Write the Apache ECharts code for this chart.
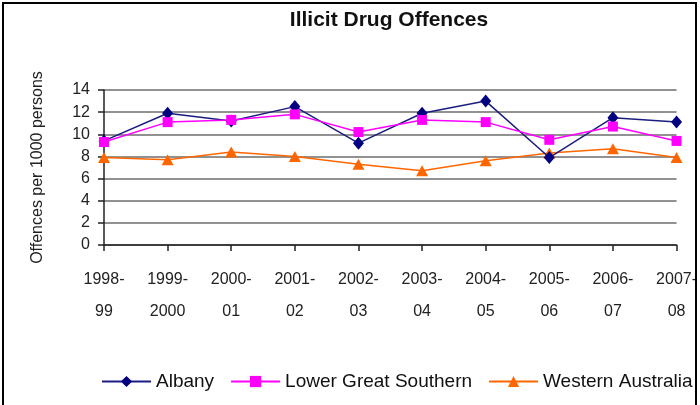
<!DOCTYPE html>
<html>
<head>
<meta charset="utf-8">
<script src="https://cdn.jsdelivr.net/npm/echarts@6/dist/echarts.min.js"></script>
<style>html,body{margin:0;padding:0;background:#fff;}#c{width:700px;height:405px;}</style>
</head>
<body>
<div id="c"></div>
<script>
const categories = ['1998-\n99','1999-\n2000','2000-\n01','2001-\n02','2002-\n03','2003-\n04','2004-\n05','2005-\n06','2006-\n07','2007-\n08'];
const albany = [9.4, 11.9, 11.2, 12.5, 9.2, 11.9, 13.0, 7.9, 11.5, 11.1];
const lowerGreatSouthern = [9.3, 11.1, 11.3, 11.8, 10.2, 11.3, 11.1, 9.5, 10.7, 9.4];
const westernAustralia = [7.9, 7.7, 8.4, 8.0, 7.3, 6.7, 7.6, 8.3, 8.7, 7.9];
const yTicks = [0, 2, 4, 6, 8, 10, 12, 14];

const font = 'Liberation Sans, Arial, sans-serif';
const chart = echarts.init(document.getElementById('c'), null, {renderer: 'canvas'});
chart.setOption({
  animation: false,
  backgroundColor: '#fff',
  textStyle: {fontFamily: font},
  title: {
    text: 'Illicit Drug Offences',
    left: 384, top: 5, textAlign: 'center',
    textStyle: {fontSize: 21, fontWeight: 'bold', color: '#111', fontFamily: font}
  },
  graphic: [
    {type: 'rect', shape: {x: 697, y: 0, width: 10, height: 405},
     style: {fill: '#fff'}, silent: true, z: 99},
    {type: 'rect', shape: {x: 3, y: 3, width: 693, height: 430},
     style: {fill: 'none', stroke: '#000', lineWidth: 2}, silent: true, z: 100}
  ],
  grid: {left: 104, right: 21, top: 90, bottom: 160, containLabel: false},
  legend: {
    left: 96, top: 367, width: 900, itemWidth: 49, itemHeight: 14, itemGap: 16,
    textStyle: {fontSize: 19, color: '#111', fontFamily: font},
    data: ['Albany', 'Lower Great Southern', 'Western Australia']
  },
  xAxis: {
    type: 'category', data: categories, boundaryGap: false,
    axisLine: {lineStyle: {color: '#222', width: 1.5}},
    axisTick: {show: true, length: 6, alignWithLabel: true, lineStyle: {color: '#222', width: 1.5}},
    axisLabel: {margin: 19, lineHeight: 32, fontSize: 16, color: '#222', fontFamily: font, interval: 0},
    splitLine: {show: false}
  },
  yAxis: {
    type: 'value', min: yTicks[0], max: yTicks[yTicks.length - 1], interval: 2,
    name: 'Offences per 1000 persons', nameLocation: 'middle', nameGap: 58, nameRotate: 90,
    nameTextStyle: {fontSize: 16, color: '#222', fontFamily: font},
    axisLine: {show: true, lineStyle: {color: '#222', width: 1.5}},
    axisTick: {show: true, length: 6, lineStyle: {color: '#222', width: 1.5}},
    axisLabel: {margin: 14, fontSize: 16, color: '#222', fontFamily: font},
    splitLine: {show: true, lineStyle: {color: '#919191', width: 2}}
  },
  series: [
    {name: 'Albany', type: 'line', data: albany, color: '#000080',
     symbol: 'diamond', symbolSize: [11, 13], lineStyle: {width: 1.5, color: '#1c1c80'},
     itemStyle: {color: '#000080'}, z: 3},
    {name: 'Lower Great Southern', type: 'line', data: lowerGreatSouthern, color: '#ff00ff',
     symbol: 'rect', symbolSize: 10, lineStyle: {width: 1.5, color: '#ff00ff'},
     itemStyle: {color: '#ff00ff'}, z: 4},
    {name: 'Western Australia', type: 'line', data: westernAustralia, color: '#ff6600',
     symbol: 'triangle', symbolSize: [12, 11], lineStyle: {width: 1.5, color: '#ff6600'},
     itemStyle: {color: '#ff6600'}, z: 2}
  ]
});
</script>
</body>
</html>
